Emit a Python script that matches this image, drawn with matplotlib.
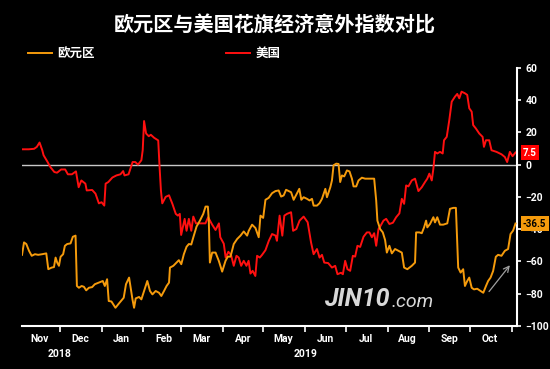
import matplotlib
matplotlib.use('Agg')
import matplotlib.pyplot as plt
import matplotlib.dates as mdates
from matplotlib.ticker import FixedLocator, FixedFormatter
import pandas as pd

plt.rcParams['font.family'] = ['Noto Sans CJK SC', 'DejaVu Sans']

# data: days since 2018-11-03 and index values
START = pd.Timestamp('2018-11-03')

us_days = [0, 5, 9, 11, 13, 15, 16, 19, 21, 24, 26, 29, 32, 34, 37, 40, 42, 44, 47, 48,
           52, 54.5, 57, 59, 61, 62, 64, 67, 70, 73, 75, 76, 79, 82, 84, 86, 88.5, 89.5,
           90.5, 92, 94, 95.5, 98, 101, 102, 103, 104, 106.5, 109, 111.5, 114, 115.6, 117,
           118, 120.6, 122, 123.7, 125.5, 127, 129, 132, 136, 138, 141, 143.5, 146, 147,
           149.6, 151, 153, 155, 157, 159, 160.7, 162.5, 164.4, 166.4, 168, 169.4, 171,
           173, 174.3, 176.3, 178, 180.5, 183, 185.4, 188, 189, 191, 193, 194.5, 196.5,
           199.5, 201, 203.4, 205.8, 208.8, 211.8, 214.3, 216.2, 218.7, 220.6, 222.4,
           224.1, 227, 229.8, 232.2, 233.9, 236.5, 237.9, 239.6, 241.3, 243.3, 245.3, 247,
           248.7, 250.7, 253.2, 255.7, 257.6, 259.4, 261.1, 262.6, 264.3, 265.5, 268, 270,
           272.4, 275, 277.4, 279.8, 281.6, 283.3, 284.8, 286.5, 289, 291.4, 293.9, 296.4,
           298.8, 300.5, 302, 303.8, 305, 306.2, 307.9, 309.9, 311.9, 312.9, 314.9, 316.8,
           318.6, 321, 322.7, 324.2, 325.9, 328.4, 330.1, 331.6, 333.4, 334.5, 336.5, 339,
           341.5, 342.5, 344, 346.4, 348.1, 351.8, 355.5, 358, 359.7, 361.7, 363.7, 365.9]
us_vals = [9.5, 9.5, 9.8, 11, 13.7, 9, 5.8, 1.6, -1.5, -4.6, -5, -3, -3, -6, -6, -4.2, -14,
           -9.8, -11.8, -16, -15.7, -18, -24, -23.3, -25.4, -11.8, -10.8, -8, -6.7, -6, -4,
           -6.7, -6, 1.6, 1.6, 0, 2.7, 9, 27, 19.3, 17.6, 18.5, 16.6, 15, -1.5, -16, -24,
           -20, -19, -24.3, -30.5, -31.6, -30.5, -43.6, -33.6, -41, -33.6, -41, -32.2,
           -36.4, -36.4, -36.4, -32.6, -37.2, -40.5, -36.4, -45, -49, -57.6, -54, -56,
           -62.7, -56.5, -57.6, -62.7, -59.6, -62.7, -59.6, -67.5, -65.8, -69, -56.5,
           -57.6, -55.9, -53, -47.2, -43, -44, -47.2, -31.6, -44, -31.6, -30.5, -29.5, -41,
           -39.9, -34.7, -32.2, -35.7, -48.2, -55.5, -52.3, -57.6, -55.9, -60.7, -61,
           -63.8, -62.7, -67.9, -67, -67.9, -59.6, -64.8, -65.8, -56.5, -57, -50.3, -51,
           -44.7, -42, -42, -45, -42.5, -50.3, -39.9, -38.4, -34.7, -33.6, -36.8, -36,
           -32.6, -30.2, -21.2, -24.3, -12.9, -13.5, -9.8, -8.7, -16.4, -14, -10.8, -8.7,
           -5.6, -9.8, -2.5, 7.9, 6.9, 7.9, 6.9, 15.1, 17.2, 27.6, 39, 42.1, 43.8, 41.1,
           45.2, 44.2, 43.2, 34.9, 32.8, 24.5, 22.4, 19.3, 17.2, 11, 15.1, 15.1, 8.9, 7.9,
           6.4, 4.7, 1.6, 7.9, 5.2, 7.5]

ez_days = [0, 1.5, 3.2, 5.2, 7.2, 9.6, 12, 15, 18, 19.5, 22, 23.7, 24.9, 26.1, 27.4, 28.6,
           30.5, 31.8, 33.5, 36, 37.7, 39.7, 40.7, 42.2, 44.2, 45.9, 47.6, 49.6, 52, 54,
           57, 59.9, 61.4, 63.1, 64.3, 66.3, 69.3, 71.7, 75.4, 77.1, 79.4, 80.6, 81.9,
           83.1, 84.3, 86.8, 88.5, 90.5, 92.9, 94.9, 96.7, 99.1, 101.6, 103.3, 105.3,
           107.2, 109, 109.7, 112.2, 114.6, 116.3, 118.1, 120, 122, 123.7, 125.5, 127,
           129.4, 131.9, 134.4, 136.1, 137.8, 138.5, 139.3, 141, 143.5, 145.9, 148.4,
           150.9, 152.6, 154.6, 157, 159.5, 162, 164.4, 166.9, 168.1, 170.6, 173.1, 175.5,
           176.8, 178.8, 180.5, 182.9, 185.4, 187.9, 190.3, 192.1, 194, 195.8, 197.7,
           199.5, 201.4, 203.4, 205.6, 207.1, 208.8, 211.3, 213.2, 215, 216.2, 218.7,
           220.6, 222.4, 224.9, 226.1, 228.6, 229.8, 231, 233, 234.7, 235.9, 237.2, 238.9,
           240.9, 242.8, 244.6, 245.8, 247.8, 249.5, 252, 254.4, 261.1, 262.6, 263.5,
           265.5, 267.5, 269.2, 270.5, 272.4, 274.2, 276.6, 279.1, 281.6, 283.3, 285.7,
           289, 291.4, 292.2, 294.6, 296.4, 298.1, 299.6, 300.5, 302.5, 305, 306.2, 307.9,
           309.9, 312.3, 315.3, 317.3, 319.8, 321.7, 323.4, 325.2, 327.1, 328.4, 330.1,
           331.6, 333.4, 335.1, 337.5, 340, 342, 344, 345.6, 347.4, 349.3, 351.3, 353,
           355.5, 358, 360.4, 362.2, 364.1, 365.9]
ez_vals = [-55.9, -48.2, -49.2, -53.4, -56.5, -55.5, -55.9, -55.5, -55, -64.8, -63.8,
           -63.5, -57.6, -60.7, -62.7, -57.1, -55.5, -50.3, -49.2, -48.8, -44.7, -44,
           -75.2, -76.3, -75.2, -75.7, -77.9, -76.3, -75.9, -74.1, -73.1, -72.1, -75.2,
           -71, -84.5, -84.8, -88.7, -86.2, -82.5, -74.1, -70, -76.3, -83.5, -88.7, -82.9,
           -82, -83.5, -78.3, -72.1, -78.3, -80.4, -78.3, -79.4, -81.4, -78.3, -75.2,
           -73.1, -63.8, -62.7, -60.7, -59.2, -61.7, -55.5, -50.9, -49.2, -49.5, -45.1,
           -38.4, -34.7, -30.5, -26, -26, -34.7, -60.7, -54.5, -54.5, -59.6, -66.3, -59.6,
           -57, -57, -49.2, -46.1, -44, -41.4, -44, -41, -37.2, -39.3, -45, -31.6, -33,
           -21.8, -20.6, -17.7, -16.4, -16, -19.8, -19.1, -15.6, -16.4, -17.1, -21.8,
           -18.5, -15, -21.8, -20.2, -21.2, -22.2, -21.2, -25.4, -25.4, -23.9, -21.2, -15,
           -20.2, -14, -9.8, -0.4, 0.6, 0.4, -10.8, -6.7, -7.3, -3.6, -4.2, -8.7, -13.5,
           -13.5, -9.8, -8.1, -8.7, -8.7, -22.2, -34.7, -39.9, -42, -46.7, -54.5, -50.3,
           -55, -52.3, -53.4, -54.5, -63.8, -64.8, -62.7, -60.7, -42, -42, -42.5, -38.9,
           -34.7, -38.9, -36.8, -32.6, -35.8, -32.6, -37.2, -37.2, -36.4, -27.4, -26.8,
           -26.8, -63.8, -66.9, -64.8, -75.2, -72.1, -70, -76.3, -77.3, -76.9, -78.3,
           -79.4, -75.2, -72.1, -70, -65.9, -57.1, -55.9, -56.5, -53.4, -52.3, -43, -40.9,
           -36.5]

month_labels = ['Nov', 'Dec', 'Jan', 'Feb', 'Mar', 'Apr', 'May', 'Jun', 'Jul', 'Aug',
                'Sep', 'Oct']
year_labels = ['2018', '2019']
y_ticks = [-100, -80, -60, -40, -20, 0, 20, 40, 60]

ORANGE = '#f59b0c'
RED = '#ff1010'

us_dates = START + pd.to_timedelta(us_days, unit='D')
ez_dates = START + pd.to_timedelta(ez_days, unit='D')

fig = plt.figure(figsize=(5.5, 3.69), dpi=100, facecolor='black')
ax = fig.add_axes([0.04, 0.1165, 0.9, 0.6998], facecolor='black')

ax.axhline(0, color='#c8c8c8', lw=1.0, zorder=1)
ax.plot(ez_dates, ez_vals, color=ORANGE, lw=1.4, label='欧元区', zorder=3)
ax.plot(us_dates, us_vals, color=RED, lw=1.4, label='美国', zorder=2)

ax.set_xlim(START, START + pd.Timedelta(days=367))
ax.set_ylim(-100, 60)

for s in ['top', 'left']:
    ax.spines[s].set_visible(False)
for s in ['right', 'bottom']:
    ax.spines[s].set_color('white')
    ax.spines[s].set_linewidth(1.5)

# y axis on the right
ax.yaxis.tick_right()
ax.set_yticks(y_ticks)
ax.tick_params(axis='y', colors='white', length=3, width=1.2, pad=3)
for lbl in ax.get_yticklabels():
    lbl.set_fontfamily('Roboto')
    lbl.set_fontweight('bold')
    lbl.set_fontsize(7.5)

# x axis: ticks at month starts, labels mid-month
month_starts = pd.date_range('2018-12-01', '2019-11-01', freq='MS')
ax.xaxis.set_major_locator(FixedLocator(mdates.date2num(month_starts)))
ax.xaxis.set_major_formatter(FixedFormatter([''] * len(month_starts)))
mid_months = pd.date_range('2018-11-01', '2019-10-01', freq='MS') + pd.Timedelta(days=15)
ax.xaxis.set_minor_locator(FixedLocator(mdates.date2num(mid_months)))
ax.xaxis.set_minor_formatter(FixedFormatter(month_labels))
ax.tick_params(axis='x', which='major', colors='white', length=4, width=1.2)
ax.tick_params(axis='x', which='minor', colors='white', length=0, pad=6)
for lbl in ax.get_xticklabels(minor=True):
    lbl.set_fontfamily('Roboto')
    lbl.set_fontweight('bold')
    lbl.set_fontsize(7.5)

year_pos = [pd.Timestamp('2018-12-01'), pd.Timestamp('2019-06-01')]
for pos, yl in zip(year_pos, year_labels):
    ax.text(pos, -0.108, yl, transform=ax.get_xaxis_transform(), ha='center', va='center',
            color='white', fontsize=7.5, fontweight='bold', family='Roboto')

# last-value tags
ax.text(1.012, us_vals[-1], '%.1f' % us_vals[-1], transform=ax.get_yaxis_transform(),
        ha='left', va='center', color='white', fontsize=7, fontweight='bold', family='Roboto',
        bbox=dict(boxstyle='square,pad=0.25', fc='#ff0000', ec='none'), zorder=5)
ax.text(1.012, ez_vals[-1], '%.1f' % ez_vals[-1], transform=ax.get_yaxis_transform(),
        ha='left', va='center', color='black', fontsize=7, fontweight='bold', family='Roboto',
        bbox=dict(boxstyle='square,pad=0.25', fc=ORANGE, ec='none'), zorder=5)

ax.annotate('', xy=(START + pd.Timedelta(days=363), -61), xytext=(START + pd.Timedelta(days=345), -80),
            arrowprops=dict(arrowstyle='->', color='#a0a0a0', lw=0.9))

# watermark
fig.text(0.59, 0.19, 'JIN10', color='#d8d8d8', fontsize=18, fontweight='bold',
         fontstyle='italic', family='Roboto', va='center', ha='left')
fig.text(0.712, 0.182, '.com', color='#d8d8d8', fontsize=14, fontstyle='italic',
         family='Roboto', va='center', ha='left')

fig.text(0.5, 0.932, '欧元区与美国花旗经济意外指数对比', ha='center', va='center',
         fontsize=14.5, fontweight='bold', color='white')

leg = fig.legend(loc='center left', bbox_to_anchor=(0.03, 0.854), ncol=2, frameon=False,
                 handlelength=1.9, handletextpad=0.45, columnspacing=10.5,
                 prop={'size': 9, 'weight': 'bold'}, labelcolor='white')

fig.savefig('out.png', dpi=100, facecolor='black')
